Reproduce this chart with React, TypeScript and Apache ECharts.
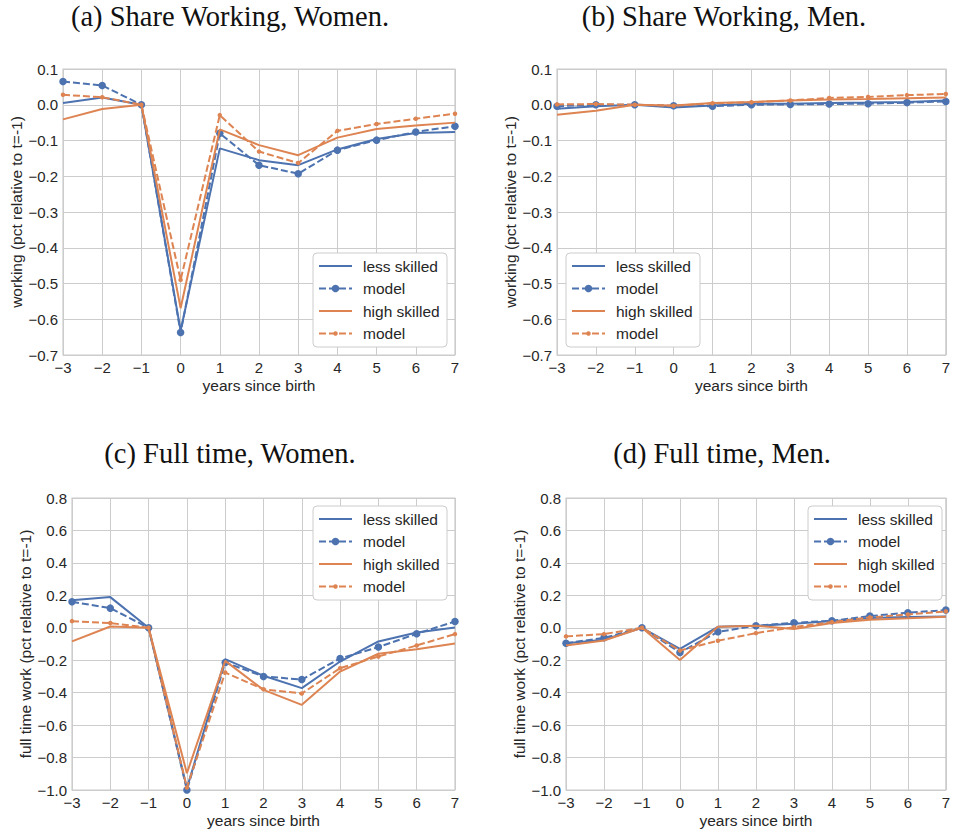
import React, { useEffect, useRef } from "react";
import * as echarts from "echarts";

const years = [-3, -2, -1, 0, 1, 2, 3, 4, 5, 6, 7];

const seriesNames = ["less skilled", "model", "high skilled", "model"];
const panelTitles = [
  "(a) Share Working, Women.",
  "(b) Share Working, Men.",
  "(c) Full time, Women.",
  "(d) Full time, Men.",
];
const yAxisNames = [
  "working (pct relative to t=-1)",
  "working (pct relative to t=-1)",
  "full time work (pct relative to t=-1)",
  "full time work (pct relative to t=-1)",
];
const xAxisName = "years since birth";

// (a) Share working, women
const aLess = [0.005, 0.02, 0, -0.632, -0.122, -0.155, -0.169, -0.125, -0.096, -0.079, -0.076];
const aLessModel = [0.065, 0.054, 0, -0.637, -0.08, -0.169, -0.193, -0.127, -0.099, -0.076, -0.06];
const aHigh = [-0.041, -0.012, 0, -0.569, -0.069, -0.113, -0.141, -0.092, -0.068, -0.058, -0.05];
const aHighModel = [0.028, 0.021, 0, -0.49, -0.029, -0.131, -0.163, -0.073, -0.054, -0.039, -0.025];

// (b) Share working, men
const bLess = [-0.011, -0.004, 0, -0.008, -0.002, 0.003, 0.003, 0.005, 0.006, 0.008, 0.012];
const bLessModel = [-0.004, 0.0, 0, -0.003, -0.004, 0.0, 0.001, 0.002, 0.003, 0.006, 0.009];
const bHigh = [-0.028, -0.017, 0, -0.002, 0.005, 0.008, 0.012, 0.015, 0.016, 0.018, 0.02];
const bHighModel = [0.001, 0.002, 0, -0.003, 0.004, 0.007, 0.012, 0.019, 0.022, 0.027, 0.03];

// (c) Full time, women
const cLess = [0.169, 0.189, 0, -0.99, -0.193, -0.296, -0.372, -0.208, -0.084, -0.029, 0.002];
const cLessModel = [0.16, 0.121, 0, -1.0, -0.214, -0.3, -0.319, -0.189, -0.119, -0.037, 0.039];
const cHigh = [-0.084, 0.008, 0, -0.897, -0.204, -0.383, -0.475, -0.27, -0.16, -0.132, -0.097];
const cHighModel = [0.041, 0.029, 0, -0.985, -0.276, -0.379, -0.405, -0.249, -0.177, -0.109, -0.039];

// (d) Full time, men
const dLess = [-0.095, -0.074, 0, -0.13, 0.006, 0.012, 0.025, 0.041, 0.06, 0.066, 0.07];
const dLessModel = [-0.095, -0.062, 0, -0.152, -0.025, 0.012, 0.031, 0.043, 0.072, 0.093, 0.109];
const dHigh = [-0.109, -0.078, 0, -0.198, 0.006, 0.012, -0.008, 0.029, 0.049, 0.058, 0.068];
const dHighModel = [-0.053, -0.039, 0, -0.14, -0.08, -0.033, 0.004, 0.035, 0.064, 0.082, 0.101];

const panelData = [
  [aLess, aLessModel, aHigh, aHighModel],
  [bLess, bLessModel, bHigh, bHighModel],
  [cLess, cLessModel, cHigh, cHighModel],
  [dLess, dLessModel, dHigh, dHighModel],
];

const yRanges = [
  { min: -0.7, max: 0.1, interval: 0.1 },
  { min: -0.7, max: 0.1, interval: 0.1 },
  { min: -1.0, max: 0.8, interval: 0.2 },
  { min: -1.0, max: 0.8, interval: 0.2 },
];

const BLUE = "#4c72b0";
const ORANGE = "#dd8452";
const TXT = "#262626";
const GRIDC = "#cccccc";
const SANS = "Liberation Sans, Arial, sans-serif";
const SERIF = "Liberation Serif, Times New Roman, serif";

const grids = [
  { left: 63, top: 69, width: 392, height: 286 },
  { left: 557, top: 69, width: 393, height: 286 },
  { left: 72, top: 498, width: 383, height: 292 },
  { left: 566, top: 498, width: 384, height: 292 },
];
const yNameGaps = [37, 37, 39, 39];
const titlePos = [
  { x: 230, top: 2 },
  { x: 724, top: 2 },
  { x: 230, top: 439 },
  { x: 722, top: 439 },
];
const legendPos = [
  { x: 313, y: 253 },
  { x: 566, y: 253 },
  { x: 313, y: 506 },
  { x: 808, y: 506 },
];

const styles = [
  { color: BLUE, dash: "solid", symbol: "none", size: 0 },
  { color: BLUE, dash: [7, 3], symbol: "circle", size: 7.5 },
  { color: ORANGE, dash: "solid", symbol: "none", size: 0 },
  { color: ORANGE, dash: [7, 3], symbol: "circle", size: 4.5 },
];

const minus = (s: string) => s.replace("-", "\u2212");
const fmtY = (v: number) => (Math.abs(v) < 1e-9 ? "0.0" : minus(v.toFixed(1)));
const fmtX = (v: number) => (Math.abs(v) < 1e-9 ? "0" : minus(String(Math.round(v))));

const LZ = 100;

function legendGraphic(px: number, py: number) {
  const rows = [13, 35.5, 58, 80.5];
  const children: any[] = [
    {
      type: "rect",
      z: LZ,
      shape: { x: 0, y: 0, width: 134, height: 94, r: 4 },
      style: { fill: "#ffffff", stroke: GRIDC, lineWidth: 1 },
    },
  ];
  styles.forEach((st, i) => {
    const y = rows[i];
    children.push({
      type: "line",
      z: LZ + 1,
      shape: { x1: 6, y1: y, x2: 39, y2: y },
      style: {
        stroke: st.color,
        lineWidth: 2,
        lineDash: st.dash === "solid" ? null : st.dash,
      },
    });
    if (st.symbol !== "none") {
      children.push({
        type: "circle",
        z: LZ + 2,
        shape: { cx: 22.5, cy: y, r: st.size / 2 },
        style: { fill: st.color },
      });
    }
    children.push({
      type: "text",
      z: LZ + 2,
      x: 50,
      y: y,
      style: {
        text: seriesNames[i],
        fill: TXT,
        font: `15.5px ${SANS}`,
        fontSize: 15.5,
        fontFamily: SANS,
        verticalAlign: "middle",
        textVerticalAlign: "middle",
        align: "left",
      },
    });
  });
  return { type: "group", x: px, y: py, z: LZ, children };
}

export default function App() {
  const ref = useRef<HTMLDivElement>(null);
  useEffect(() => {
    if (!ref.current) return;
    const chart = echarts.init(ref.current, null, { renderer: "svg" });
    const series: any[] = [];
    panelData.forEach((pd, p) => {
      pd.forEach((vals, i) => {
        const st = styles[i];
        series.push({
          type: "line",
          name: seriesNames[i],
          xAxisIndex: p,
          yAxisIndex: p,
          data: years.map((x, k) => [x, vals[k]]),
          symbol: st.symbol,
          symbolSize: st.size,
          showSymbol: st.symbol !== "none",
          showAllSymbol: true,
          lineStyle: { color: st.color, width: 2, type: st.dash },
          itemStyle: { color: st.color },
          z: 2 + i,
          clip: true,
        });
      });
    });
    const option: any = {
      animation: false,
      backgroundColor: "#ffffff",
      textStyle: { fontFamily: SANS },
      title: panelTitles.map((t, p) => ({
        text: t,
        left: titlePos[p].x,
        top: titlePos[p].top,
        textAlign: "center",
        padding: 0,
        textStyle: {
          fontFamily: SERIF,
          fontWeight: "normal",
          fontSize: 28.5,
          color: "#111111",
        },
      })),
      grid: grids.map((g) => ({
        ...g,
        show: true,
        borderColor: GRIDC,
        borderWidth: 1.2,
        backgroundColor: "#ffffff",
        containLabel: false,
      })),
      xAxis: grids.map((_, p) => ({
        type: "value",
        gridIndex: p,
        min: -3,
        max: 7,
        interval: 1,
        name: xAxisName,
        nameLocation: "middle",
        nameGap: 22,
        nameTextStyle: { color: TXT, fontSize: 15.5, fontFamily: SANS },
        axisLine: { show: false },
        axisTick: { show: false },
        axisLabel: {
          color: TXT,
          fontSize: 15,
          fontFamily: SANS,
          margin: 5,
          formatter: fmtX,
          showMinLabel: true,
          showMaxLabel: true,
        },
        splitLine: { show: true, lineStyle: { color: GRIDC, width: 1 } },
      })),
      yAxis: grids.map((_, p) => ({
        type: "value",
        gridIndex: p,
        min: yRanges[p].min,
        max: yRanges[p].max,
        interval: yRanges[p].interval,
        name: yAxisNames[p],
        nameLocation: "middle",
        nameRotate: 90,
        nameGap: yNameGaps[p],
        nameTextStyle: { color: TXT, fontSize: 15.5, fontFamily: SANS },
        axisLine: { show: false },
        axisTick: { show: false },
        axisLabel: {
          color: TXT,
          fontSize: 15,
          fontFamily: SANS,
          margin: 5,
          formatter: fmtY,
          showMinLabel: true,
          showMaxLabel: true,
        },
        splitLine: { show: true, lineStyle: { color: GRIDC, width: 1 } },
      })),
      graphic: { z: LZ, elements: legendPos.map((lp) => legendGraphic(lp.x, lp.y)) },
      series,
    };
    chart.setOption(option);
    return () => chart.dispose();
  }, []);
  return (
    <div
      ref={ref}
      style={{ position: "fixed", left: 0, top: 0, width: 953, height: 830, background: "#fff" }}
    />
  );
}
